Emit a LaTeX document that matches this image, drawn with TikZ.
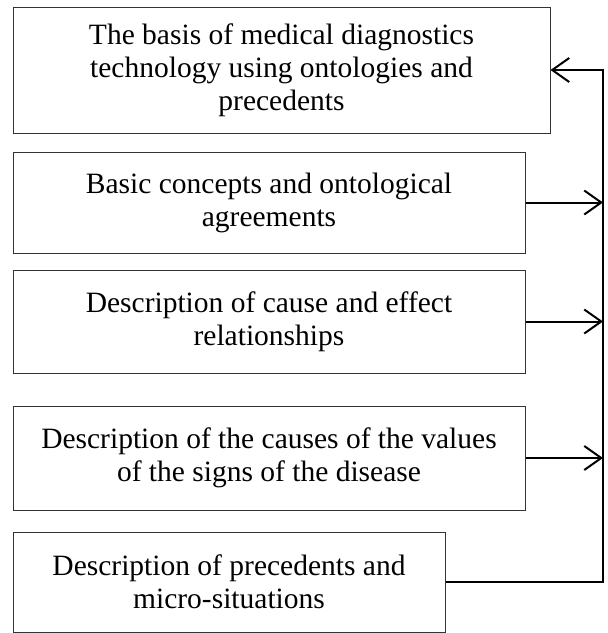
\documentclass[tikz,border=0pt]{standalone}
\usepackage{fontspec}
\setmainfont{Liberation Serif}
\usepackage{tikz}
\usetikzlibrary{arrows.meta,positioning}

\begin{document}
\begin{tikzpicture}[x=1pt, y=-1pt, ->, thick]
\tikzset{>={Straight Barb[length=17pt, width=24pt, line width=2pt]}}
\tikzset{block/.style={rectangle, draw=black!80, line width=1pt, align=center, inner sep=0pt, font=\fontsize{29.5}{33}\selectfont}}
\useasboundingbox (0,0) rectangle (608,633);
\node[block, minimum width=537pt, minimum height=126pt] (1) at (281.5,70) {The basis of medical diagnostics\\technology using ontologies and\\precedents};
\node[block, minimum width=512pt, minimum height=101pt] (2) at (269,202.5) {Basic concepts and ontological\\agreements};
\node[block, minimum width=512pt, minimum height=103pt] (3) at (269,321.5) {Description of cause and effect\\relationships};
\node[block, minimum width=512pt, minimum height=104pt] (4) at (269,458) {Description of the causes of the values\\of the signs of the disease};
\node[block, minimum width=432pt, minimum height=100pt] (5) at (229,582) {Description of precedents and\\micro-situations};
\coordinate (bus) at (603,70);
% feedback line to the top block
\draw[line width=2pt, line join=miter] (5.east) -| (bus) -- (1.east);
\draw[line width=2pt] (2.east) -- (2.east -| bus);
\draw[line width=2pt] (3.east) -- (3.east -| bus);
\draw[line width=2pt] (4.east) -- (4.east -| bus);
\end{tikzpicture}
\end{document}
